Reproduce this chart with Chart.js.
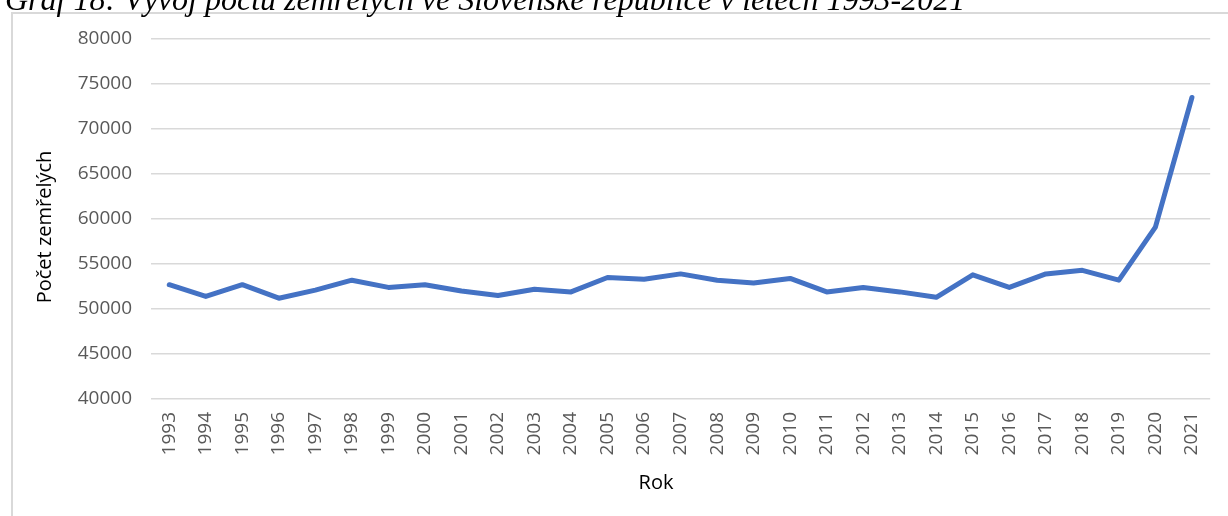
<!DOCTYPE html>
<html>
<head>
<meta charset="utf-8">
<script src="https://cdn.jsdelivr.net/npm/chart.js@4"></script>
<style>
    body { margin: 0; background: #fff; }
    #wrap { position: relative; width: 1228px; height: 516px; overflow: hidden; }
    #frame { position: absolute; left: 11px; top: 12px; width: 2000px; height: 2000px;
             border-left: 2px solid #d9d9d9; border-top: 2px solid #d9d9d9; }
    #chart { position: absolute; left: 0; top: 0; }
</style>
</head>
<body>
<div id="wrap">
    <div id="frame"></div>
    <canvas id="chart" width="1228" height="516"></canvas>
</div>
<script>
// data
const years = ['1993', '1994', '1995', '1996', '1997', '1998', '1999', '2000', '2001', '2002',
    '2003', '2004', '2005', '2006', '2007', '2008', '2009', '2010', '2011', '2012',
    '2013', '2014', '2015', '2016', '2017', '2018', '2019', '2020', '2021'];
const deaths = [52700, 51400, 52700, 51200, 52100, 53200, 52400, 52700, 52000, 51500,
    52200, 51900, 53500, 53300, 53900, 53200, 52900, 53400, 51900, 52400,
    51900, 51300, 53800, 52400, 53900, 54300, 53200, 59100, 73500];
const yTicks = [40000, 45000, 50000, 55000, 60000, 65000, 70000, 75000, 80000];

const caption = 'Graf 18: Vývoj počtu zemřelých ve Slovenské republice v letech 1993-2021';
const xTitle = 'Rok';
const yTitle = 'Počet zemřelých';

// caption above the frame and the axis titles (placed like in the Excel original)
const textPlugin = {
    id: 'texts',
    afterDraw(chart) {
        const ctx = chart.ctx;
        ctx.save();
        ctx.fillStyle = '#000';
        ctx.font = 'italic 32px "Liberation Serif"';
        ctx.textBaseline = 'alphabetic';
        ctx.textAlign = 'left';
        ctx.fillText(caption, 5, 10);

        ctx.font = '20px "Open Sans"';
        ctx.textAlign = 'center';
        ctx.textBaseline = 'middle';
        ctx.fillText(xTitle, 656, 483);

        ctx.translate(45, 227);
        ctx.rotate(-Math.PI / 2);
        ctx.fillText(yTitle, 0, 0);
        ctx.restore();
    }
};

const tickFont = { family: '"Open Sans"', size: 19 };

new Chart(document.getElementById('chart'), {
    type: 'line',
    data: {
        labels: years,
        datasets: [{
            label: yTitle,
            data: deaths,
            borderColor: '#4472C4',
            borderWidth: 5,
            borderCapStyle: 'round',
            borderJoinStyle: 'round',
            pointRadius: 0,
            tension: 0,
            fill: false
        }]
    },
    options: {
        responsive: false,
        animation: false,
        layout: { padding: { left: 0, top: 39, right: 16, bottom: 0 } },
        plugins: { legend: { display: false }, tooltip: { enabled: false } },
        scales: {
            x: {
                offset: true,
                grid: { display: false, drawTicks: false },
                border: { display: false },
                ticks: { color: '#595959', font: tickFont, minRotation: 90, maxRotation: 90, padding: 13, autoSkip: false },
                afterFit: (scale) => { scale.height = 117; }
            },
            y: {
                min: 40000,
                max: 80000,
                afterBuildTicks: (scale) => { scale.ticks = yTicks.map(v => ({ value: v })); },
                grid: { color: '#d9d9d9', lineWidth: 1.5, drawTicks: false },
                border: { display: false },
                ticks: { color: '#595959', font: tickFont, padding: 19, callback: (v) => String(v) },
                afterFit: (scale) => { scale.width = 151; }
            }
        }
    },
    plugins: [textPlugin]
});
</script>
</body>
</html>
